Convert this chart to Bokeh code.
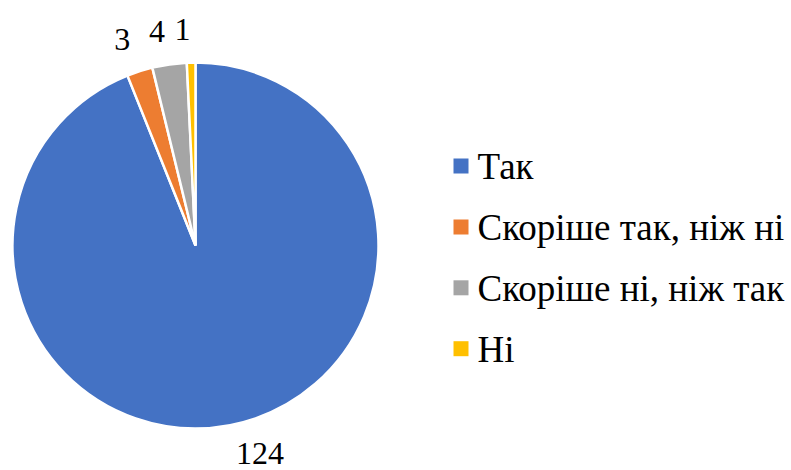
import math
from bokeh.plotting import figure
from bokeh.models import Range1d, ColumnDataSource
from bokeh.core.properties import value
from bokeh.embed import file_html
from bokeh.resources import INLINE

categories = ["Так", "Скоріше так, ніж ні", "Скоріше ні, ніж так", "Ні"]
counts = [124, 3, 4, 1]
colors = ["#4472C4", "#ED7D31", "#A5A5A5", "#FFC000"]

FONT = value("Liberation Serif")

W, H = 791, 470
p = figure(width=W, height=H, output_backend="svg", toolbar_location=None,
           x_range=Range1d(0, W), y_range=Range1d(470 - H, 470),
           min_border=0, outline_line_color=None)
p.axis.visible = False
p.grid.visible = False
p.background_fill_color = "white"
p.border_fill_color = "white"

# pie geometry (screen px -> data: y = 470 - screen_y)
cx, cy, R = 195, 470 - 245, 183
total = sum(counts)
starts, ends, lx, ly, aligns, labels = [], [], [], [], [], []
cum = 0
for c in counts:
    a0 = math.pi / 2 - 2 * math.pi * cum / total
    a1 = math.pi / 2 - 2 * math.pi * (cum + c) / total
    starts.append(a0)
    ends.append(a1)
    mid = (a0 + a1) / 2
    rl = 214
    lx.append(cx + rl * math.cos(mid))
    ly.append(cy + rl * math.sin(mid) + 2)
    aligns.append("left" if math.cos(mid) > 0 else "right")
    labels.append(str(c))
    cum += c

src = ColumnDataSource(dict(start=starts, end=ends, color=colors))
p.wedge(x=cx, y=cy, radius=R, start_angle="start", end_angle="end",
        direction="clock", fill_color="color", line_color="white",
        line_width=2.5, source=src)

lsrc = ColumnDataSource(dict(x=lx, y=ly, text=labels, align=aligns))
p.text(x="x", y="y", text="text", text_align="align", text_baseline="middle",
       text_font=FONT, text_font_size="32px",
       text_color="#000000", source=lsrc)

# legend
row0, drow = 166, 60.9
ty = [470 - (row0 + i * drow) for i in range(len(categories))]
sy = [t + 0.5 for t in ty]
gsrc = ColumnDataSource(dict(x=[460.5] * len(categories), sy=sy, ty=ty, color=colors,
                             tx=[477] * len(categories), text=categories))
p.scatter(x="x", y="sy", marker="square", size=15, fill_color="color",
          line_color=None, source=gsrc)
p.text(x="tx", y="ty", text="text", text_align="left", text_baseline="middle",
       text_font=FONT, text_font_size="37px",
       text_color="#000000", source=gsrc)

open("out.html", "w").write(file_html(p, INLINE))
